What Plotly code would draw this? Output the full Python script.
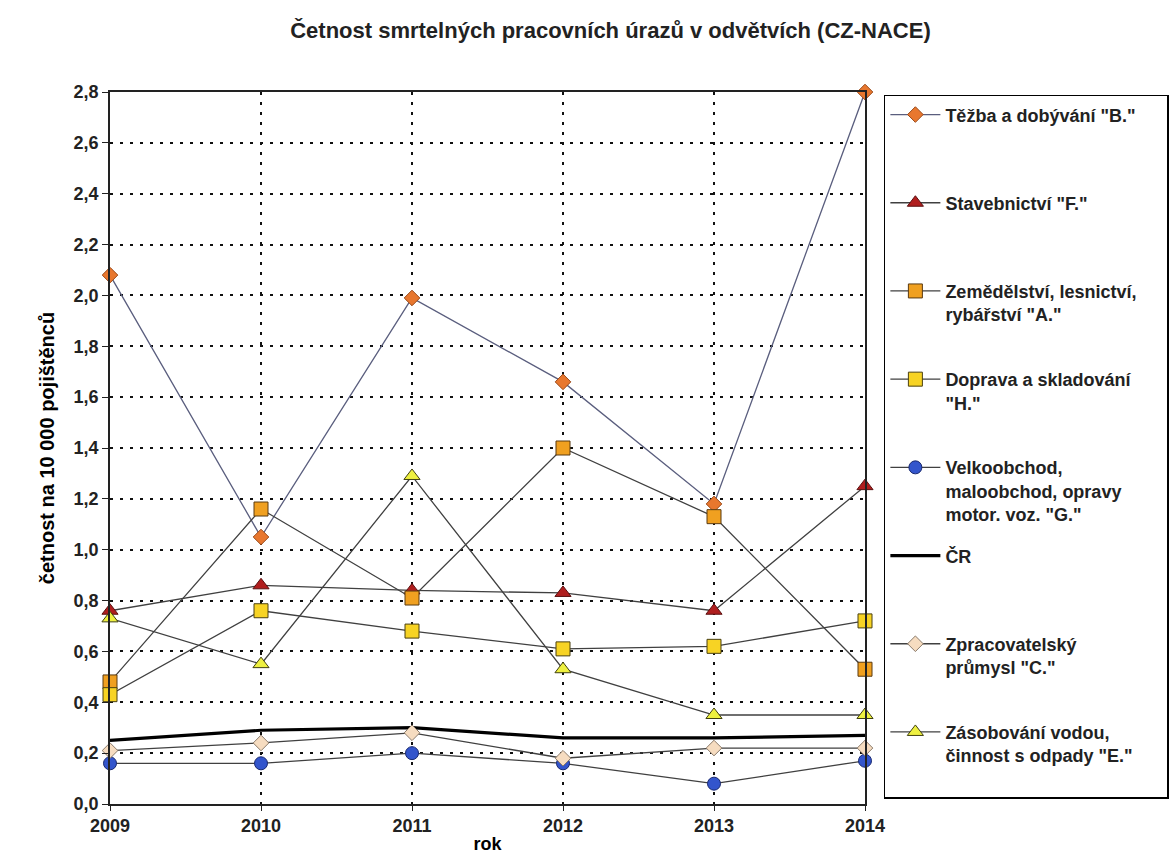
import plotly.graph_objects as go

years = [2009, 2010, 2011, 2012, 2013, 2014]

tezba_B = [2.08, 1.05, 1.99, 1.66, 1.18, 2.80]
stavebnictvi_F = [0.76, 0.86, 0.84, 0.83, 0.76, 1.25]
zemedelstvi_A = [0.48, 1.16, 0.81, 1.40, 1.13, 0.53]
doprava_H = [0.43, 0.76, 0.68, 0.61, 0.62, 0.72]
velkoobchod_G = [0.16, 0.16, 0.20, 0.16, 0.08, 0.17]
cr_total = [0.25, 0.29, 0.30, 0.26, 0.26, 0.27]
zpracovatelsky_C = [0.21, 0.24, 0.28, 0.18, 0.22, 0.22]
zasobovani_E = [0.73, 0.55, 1.29, 0.53, 0.35, 0.35]

y_ticks = [0.0, 0.2, 0.4, 0.6, 0.8, 1.0, 1.2, 1.4, 1.6, 1.8, 2.0, 2.2, 2.4, 2.6, 2.8]

PAD = "<br> "
NB = "\u00a0" * 5

series = [
    ("Těžba a dobývání \"B.\"" + PAD + PAD, tezba_B, "diamond", 12, "#E8772E", "#9A4A1A", "#5A5E7E", 1.3),
    ("Stavebnictví \"F.\"" + PAD + PAD, stavebnictvi_F, "triangle-up", 14, "#B01E1E", "#5A1010", "#404040", 1.3),
    ("Zemědělství, lesnictví," + NB + "<br>rybářství \"A.\"" + PAD, zemedelstvi_A, "square", 14, "#F0A020", "#5A3A10", "#404040", 1.3),
    ("Doprava a skladování<br>\"H.\"" + PAD, doprava_H, "square", 14, "#F7D324", "#4A4010", "#404040", 1.3),
    ("Velkoobchod,<br>maloobchod, opravy<br>motor. voz. \"G.\"", velkoobchod_G, "circle", 13, "#3355CC", "#1A2A70", "#404040", 1.3),
    ("ČR" + PAD + PAD, cr_total, None, 0, "black", "black", "black", 3.2),
    ("Zpracovatelský<br>průmysl \"C.\"" + PAD, zpracovatelsky_C, "diamond", 12, "#F6DCC0", "#8A7A6A", "#404040", 1.3),
    ("Zásobování vodou,<br>činnost s odpady \"E.\"" + PAD, zasobovani_E, "triangle-up", 14, "#EEF040", "#404010", "#404040", 1.3),
]

fig = go.Figure()
for i, (name, vals, sym, size, fill, edge, lcol, lw) in enumerate(series):
    if sym is None:
        fig.add_trace(go.Scatter(
            x=years, y=vals, name=name, mode="lines",
            line=dict(color=lcol, width=lw),
            legendgroup=f"g{i}", cliponaxis=False,
        ))
    else:
        fig.add_trace(go.Scatter(
            x=years, y=vals, name=name, mode="lines+markers",
            line=dict(color=lcol, width=lw),
            marker=dict(symbol=sym, size=size, color=fill,
                        line=dict(color=edge, width=1)),
            legendgroup=f"g{i}", cliponaxis=False,
        ))

fig.update_layout(
    width=1174, height=868,
    margin=dict(l=110, r=309, t=92, b=64, autoexpand=False),
    paper_bgcolor="white", plot_bgcolor="white",
    separators=", ",
    font=dict(family="Liberation Sans, Arial, sans-serif", size=18, color="black", weight="bold"),
    title=dict(
        text="Četnost smrtelných pracovních úrazů v odvětvích (CZ-NACE)",
        x=0.52, xanchor="center", y=0.965, yanchor="middle",
        font=dict(size=22, weight="bold", color="#222"),
    ),
    showlegend=True,
    legend=dict(
        x=1.025, xanchor="left", y=0.996, yanchor="top",
        bordercolor="black", borderwidth=1.5, bgcolor="white",
        font=dict(size=18, weight="bold", color="#222"),
        valign="top", tracegroupgap=15, itemwidth=50,
    ),
    xaxis=dict(
        range=[2009, 2014], tickvals=years, ticktext=[str(y) for y in years],
        showline=True, linecolor="#222", linewidth=1.5, mirror=True,
        ticks="outside", ticklen=5, tickcolor="#222",
        showgrid=True, gridcolor="#111", gridwidth=1.5, griddash="3px,7px",
        zeroline=False,
        title=dict(text="rok", standoff=2, font=dict(size=18, weight="bold")),
        tickfont=dict(size=18, weight="bold", color="#222"),
    ),
    yaxis=dict(
        range=[0, 2.8], tickvals=y_ticks, tickformat=".1f",
        showline=True, linecolor="#222", linewidth=1.5, mirror=True,
        ticks="outside", ticklen=6, tickcolor="#222",
        showgrid=True, gridcolor="#111", gridwidth=1.5, griddash="3px,7px",
        zeroline=False,
        title=dict(text="četnost na 10 000 pojištěnců", standoff=14, font=dict(size=20, weight="bold")),
        tickfont=dict(size=18, weight="bold", color="#222"),
    ),
)

fig.write_html("out.html")
